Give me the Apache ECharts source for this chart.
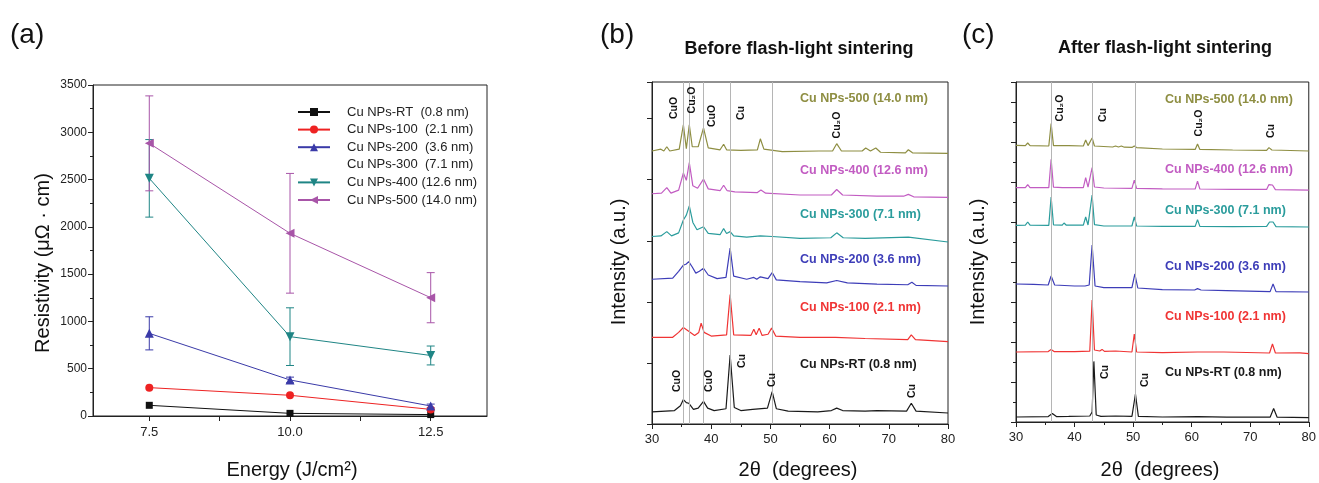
<!DOCTYPE html>
<html><head><meta charset="utf-8">
<script src="https://cdn.jsdelivr.net/npm/echarts@6/dist/echarts.min.js"></script>
<style>html,body{margin:0;padding:0;background:#fff}#c{width:1319px;height:483px}</style>
</head><body><div id="c"></div>
<script>
// ---------- Panel (a) data ----------
const energy = [7.5, 10.0, 12.5];
const namesA = ['Cu NPs-RT  (0.8 nm)','Cu NPs-100  (2.1 nm)','Cu NPs-200  (3.6 nm)','Cu NPs-300  (7.1 nm)','Cu NPs-400 (12.6 nm)','Cu NPs-500 (14.0 nm)'];
const resRT  = [113, 28, 15];
const res100 = [300, 219, 70];
const res200 = [874, 381, 106];
const err200 = [175, 30, 20];
const res300 = [];
const res400 = [2513, 839, 640];
const err400 = [410, 305, 100];
const res500 = [2883, 1932, 1251];
const err500 = [502, 633, 265];
const xTicksA = [7.5, 8.75, 10, 11.25, 12.5];
const xLabelsA = [7.5, 10, 12.5];

// ---------- Panel (b) data: [2theta, offset intensity] ----------
const namesXRD = ['Cu NPs-RT (0.8 nm)','Cu NPs-100 (2.1 nm)','Cu NPs-200 (3.6 nm)','Cu NPs-300 (7.1 nm)','Cu NPs-400 (12.6 nm)','Cu NPs-500 (14.0 nm)'];
const bRT = [[30,0.20],[33.8,0.22],[34.8,0.30],[35.3,0.40],[35.8,0.35],[36.2,0.34],[37.0,0.24],[37.8,0.26],[38.7,0.37],[39.4,0.26],[40.5,0.22],[42.5,0.25],[43.2,1.13],[43.9,0.27],[45,0.22],[47,0.24],[49.5,0.26],[50.3,0.53],[51.0,0.25],[53,0.21],[58,0.20],[60.3,0.22],[61.2,0.26],[62.2,0.22],[66,0.21],[68,0.22],[73.0,0.21],[73.8,0.34],[74.6,0.21],[80,0.18]];
const b100 = [[30,1.42],[33.5,1.42],[34.5,1.50],[35.3,1.58],[36.2,1.52],[37.2,1.45],[37.9,1.50],[38.3,1.65],[38.8,1.50],[40,1.44],[42.6,1.46],[43.2,2.12],[43.8,1.46],[46.7,1.45],[47.2,1.55],[47.6,1.46],[48.1,1.57],[48.6,1.45],[49.6,1.47],[50.2,1.57],[50.9,1.44],[55,1.42],[61,1.42],[66,1.40],[73.2,1.38],[73.8,1.46],[74.5,1.38],[80,1.35]];
const b200 = [[30,2.37],[33.5,2.39],[34.5,2.50],[35.3,2.60],[35.8,2.62],[36.2,2.66],[36.8,2.57],[37.4,2.47],[38.0,2.50],[38.7,2.55],[39.5,2.44],[41,2.38],[42.5,2.40],[43.2,2.88],[43.8,2.42],[46,2.37],[47.2,2.40],[47.7,2.37],[48.3,2.41],[49.6,2.38],[50.3,2.48],[51,2.36],[55,2.33],[59.5,2.31],[61.2,2.35],[63,2.31],[68,2.29],[73.2,2.28],[73.9,2.32],[74.6,2.27],[80,2.26]];
const b300 = [[30,3.07],[31.5,3.08],[32.5,3.15],[33.3,3.08],[34.5,3.13],[35.3,3.34],[35.8,3.42],[36.3,3.57],[36.9,3.30],[37.6,3.18],[38.7,3.23],[39.5,3.12],[41.5,3.10],[42.1,3.20],[42.6,3.12],[43.2,3.15],[43.8,3.08],[46,3.06],[48.3,3.08],[50.3,3.07],[55,3.04],[60.2,3.05],[61.2,3.13],[62.3,3.05],[66,3.04],[73.3,3.06],[80,2.98]];
const b400 = [[30,3.77],[31.6,3.78],[32.5,3.87],[33.2,3.78],[34.5,3.83],[35.3,4.11],[35.8,3.99],[36.3,4.28],[36.9,3.90],[37.7,3.86],[38.7,4.01],[39.5,3.85],[41.5,3.82],[42.1,3.91],[42.7,3.82],[44,3.80],[47.8,3.79],[48.4,3.83],[49.2,3.78],[55,3.75],[60.3,3.75],[61.2,3.84],[62.2,3.75],[68,3.73],[72.5,3.73],[73.3,3.76],[74.2,3.72],[80,3.71]];
const b500 = [[30,4.47],[31.5,4.50],[32.0,4.47],[32.5,4.54],[33.0,4.47],[34.6,4.50],[35.3,4.90],[35.8,4.51],[36.3,4.90],[36.8,4.54],[37.8,4.54],[38.7,4.85],[39.5,4.52],[41.5,4.49],[42.1,4.58],[42.6,4.49],[45,4.48],[47.8,4.49],[48.3,4.67],[48.9,4.50],[52,4.46],[58.2,4.47],[60.5,4.47],[61.2,4.59],[62,4.47],[65.5,4.47],[66.1,4.52],[66.9,4.47],[67.8,4.52],[68.6,4.45],[72.8,4.44],[73.3,4.49],[74,4.44],[80,4.43]];
const refLinesB = [35.3, 36.3, 38.7, 43.2, 50.3];

// ---------- Panel (c) data ----------
const cRT = [[30,0.25],[35.5,0.27],[36.2,0.42],[36.9,0.27],[39,0.28],[42.6,0.30],[43.0,0.50],[43.3,3.03],[43.7,0.35],[44.5,0.28],[47,0.30],[49.8,0.28],[50.4,1.40],[50.9,0.28],[55,0.25],[61,0.27],[66,0.24],[73.4,0.24],[74.0,0.67],[74.6,0.24],[80,0.22]];
const c100 = [[30,3.50],[35.5,3.52],[36.0,3.63],[36.5,3.52],[40,3.52],[42.6,3.54],[43.0,6.10],[43.4,3.60],[44.3,3.55],[44.7,3.63],[45.1,3.53],[47,3.55],[49.8,3.50],[50.2,4.40],[50.6,3.50],[55,3.47],[61,3.50],[65.5,3.50],[73.3,3.45],[73.8,3.90],[74.3,3.45],[78.5,3.46],[80,3.42]];
const c200 = [[30,6.90],[33,6.88],[35.5,6.85],[36.0,7.30],[36.6,6.85],[40,6.80],[41.8,6.80],[42.0,6.85],[42.5,6.85],[43.0,8.85],[43.5,6.80],[45,6.72],[49.8,6.72],[50.3,7.40],[50.8,6.70],[55,6.62],[60.5,6.60],[61,6.67],[61.6,6.60],[66,6.57],[73.4,6.52],[73.9,6.90],[74.4,6.52],[80,6.50]];
const c300 = [[30,9.83],[31.6,9.84],[32,10.0],[32.4,9.84],[35.6,9.83],[36,11.25],[36.4,9.86],[37.9,9.84],[38.2,9.95],[38.6,9.84],[41.5,9.84],[41.9,10.25],[42.3,9.85],[42.6,9.86],[43.0,11.34],[43.4,9.87],[45,9.80],[49.8,9.80],[50.2,10.25],[50.6,9.80],[55,9.78],[60.6,9.78],[61.0,10.12],[61.4,9.78],[67,9.77],[72.8,9.78],[73.3,10.0],[73.6,9.95],[73.9,10.0],[74.4,9.77],[80,9.75]];
const c400 = [[30,11.72],[31.6,11.72],[32,11.87],[32.4,11.72],[35.6,11.72],[36,13.14],[36.4,11.74],[37.9,11.72],[38.2,11.80],[38.6,11.72],[41.5,11.72],[41.9,12.22],[42.3,11.74],[42.6,11.75],[43.0,12.72],[43.4,11.75],[45,11.70],[49.8,11.68],[50.2,12.09],[50.6,11.68],[55,11.66],[60.6,11.65],[61,12.04],[61.4,11.65],[67,11.63],[72.8,11.63],[73.2,11.87],[73.5,11.80],[73.8,11.85],[74.3,11.62],[80,11.59]];
const c500 = [[30,13.83],[31.6,13.82],[32,13.95],[32.4,13.82],[35.6,13.80],[36,14.92],[36.4,13.82],[39,13.82],[41.5,13.80],[41.9,14.10],[42.3,13.82],[42.6,13.85],[43.0,14.20],[43.4,13.80],[46.5,13.75],[47,13.80],[47.5,13.75],[48,13.80],[48.5,13.74],[49.8,13.73],[50.2,13.80],[50.6,13.72],[55,13.65],[60.6,13.63],[61,13.90],[61.4,13.63],[67,13.60],[72.8,13.58],[73.2,13.72],[73.7,13.60],[80,13.55]];
const refLinesC = [36.0, 43.1, 50.3];

// ---------- styling ----------
const FONT = "'Liberation Sans', Arial, 'DejaVu Sans', sans-serif";
const colA = ['#111111','#ee2222','#3a3aa8','#2a8a8a','#1f8585','#a855a8'];
const colX = ['#1a1a1a','#f03434','#3d3db8','#2a9c9c','#c25cc2','#8e8e42'];
const ax = '#222';

const chart = echarts.init(document.getElementById('c'));

function errSeries(vals, errs, color) {
  return {
    type: 'custom', xAxisIndex: 0, yAxisIndex: 0, silent: true, z: 1,
    data: energy.map((e, i) => [e, vals[i] - errs[i], vals[i] + errs[i]]),
    renderItem: (p, api) => {
      const lo = api.coord([api.value(0), api.value(1)]);
      const hi = api.coord([api.value(0), api.value(2)]);
      const w = 4, st = {stroke: color, lineWidth: 1};
      return {type: 'group', children: [
        {type: 'line', shape: {x1: lo[0], y1: lo[1], x2: hi[0], y2: hi[1]}, style: st},
        {type: 'line', shape: {x1: lo[0]-w, y1: lo[1], x2: lo[0]+w, y2: lo[1]}, style: st},
        {type: 'line', shape: {x1: hi[0]-w, y1: hi[1], x2: hi[0]+w, y2: hi[1]}, style: st}
      ]};
    }
  };
}
function lineA(i, vals, symbol, size, rot) {
  return {
    type: 'line', name: namesA[i], xAxisIndex: 0, yAxisIndex: 0,
    data: vals.map((v, k) => [energy[k], v]),
    symbol: symbol, symbolSize: size, symbolRotate: rot || 0, showSymbol: true,
    itemStyle: {color: colA[i]}, lineStyle: {color: colA[i], width: 1}, z: 3
  };
}
function xrd(grid, name, data, color, marks) {
  const s = {
    type: 'line', name: name, xAxisIndex: grid, yAxisIndex: grid, data: data,
    showSymbol: false, symbol: 'none', lineStyle: {color: color, width: 1.2}, z: 3, silent: true
  };
  if (marks) s.markLine = {silent: true, symbol: 'none', label: {show: false},
    lineStyle: {color: '#b5b5b5', width: 1, type: 'solid'}, data: marks.map(v => ({xAxis: v}))};
  return s;
}
function T(x, y, text, o) {
  o = o || {};
  return {type: 'text', x: x, y: y, rotation: o.rot || 0, z: 10, silent: true,
    style: {text: text, fill: o.color || '#111', align: o.align || 'center', verticalAlign: o.va || 'middle',
      font: (o.weight || 'normal') + ' ' + (o.size || 12) + 'px ' + FONT}};
}
const R = Math.PI / 2;
const peakStyle = {rot: R, weight: 'bold', size: 10.5};

const graphics = [
  T(10, 35, '(a)', {size: 28, align: 'left'}),
  T(600, 35, '(b)', {size: 28, align: 'left'}),
  T(962, 35, '(c)', {size: 28, align: 'left'}),
  T(799, 49, 'Before flash-light sintering', {weight: 'bold', size: 18}),
  T(1165, 48, 'After flash-light sintering', {weight: 'bold', size: 18}),
  T(43, 263, 'Resistivity (μΩ · cm)', {rot: R, size: 20}),
  T(292, 470, 'Energy (J/cm²)', {size: 20}),
  T(619, 262, 'Intensity (a.u.)', {rot: R, size: 20}),
  T(798, 470, '2θ  (degrees)', {size: 20}),
  T(978, 262, 'Intensity (a.u.)', {rot: R, size: 20}),
  T(1160, 470, '2θ  (degrees)', {size: 20}),
  // (b) peak labels
  T(674, 108, 'CuO', peakStyle), T(692, 100, 'Cu₂O', peakStyle), T(712, 116, 'CuO', peakStyle),
  T(741, 113, 'Cu', peakStyle), T(837, 125, 'Cu₂O', peakStyle),
  T(677, 381, 'CuO', peakStyle), T(709, 381, 'CuO', peakStyle), T(742, 361, 'Cu', peakStyle),
  T(772, 380, 'Cu', peakStyle), T(912, 391, 'Cu', peakStyle),
  // (c) peak labels
  T(1060, 108, 'Cu₂O', peakStyle), T(1103, 115, 'Cu', peakStyle), T(1199, 123, 'Cu₂O', peakStyle),
  T(1271, 131, 'Cu', peakStyle), T(1105, 372, 'Cu', peakStyle), T(1145, 380, 'Cu', peakStyle)
];
const labYB = [365, 308, 260, 215, 171, 99];
const labYC = [373, 317, 267, 211, 170, 100];
namesXRD.forEach((n, i) => {
  graphics.push(T(800, labYB[i], n, {align: 'left', weight: 'bold', size: 12.5, color: colX[i]}));
  graphics.push(T(1165, labYC[i], n, {align: 'left', weight: 'bold', size: 12.5, color: colX[i]}));
});

const axisCommon = {
  axisLine: {show: true, lineStyle: {color: ax, width: 1}},
  splitLine: {show: false}
};

const option = {
  animation: false,
  backgroundColor: '#fff',
  textStyle: {fontFamily: FONT},
  grid: [
    {left: 93, right: 832, top: 85, bottom: 67, show: true, borderColor: ax, borderWidth: 1},
    {left: 652, right: 371, top: 82, bottom: 59, show: true, borderColor: ax, borderWidth: 1},
    {left: 1016, right: 8, top: 82, bottom: 61, show: true, borderColor: ax, borderWidth: 1}
  ],
  xAxis: [
    Object.assign({gridIndex: 0, type: 'value', min: 6.5, max: 13.5,
      axisTick: {show: true, customValues: xTicksA, length: 5, lineStyle: {color: ax}},
      axisLabel: {customValues: xLabelsA, formatter: v => v.toFixed(1), fontSize: 13, color: '#222', margin: 10}}, axisCommon),
    Object.assign({gridIndex: 1, type: 'value', min: 30, max: 80, interval: 10,
      axisTick: {length: 5, lineStyle: {color: ax}}, minorTick: {show: true, splitNumber: 2, length: 3, lineStyle: {color: ax}},
      axisLabel: {fontSize: 13, color: '#222', margin: 9}}, axisCommon),
    Object.assign({gridIndex: 2, type: 'value', min: 30, max: 80, interval: 10,
      axisTick: {length: 5, lineStyle: {color: ax}}, minorTick: {show: true, splitNumber: 2, length: 3, lineStyle: {color: ax}},
      axisLabel: {fontSize: 13, color: '#222', margin: 9}}, axisCommon)
  ],
  yAxis: [
    Object.assign({gridIndex: 0, type: 'value', min: 0, max: 3500, interval: 500,
      axisTick: {length: 5, lineStyle: {color: ax}}, minorTick: {show: true, splitNumber: 2, length: 3, lineStyle: {color: ax}},
      axisLabel: {fontSize: 12, color: '#222', margin: 6, formatter: v => String(v)}}, axisCommon),
    Object.assign({gridIndex: 1, type: 'value', min: 0, max: 5.6, interval: 1,
      axisTick: {length: 5, lineStyle: {color: ax}}, axisLabel: {show: false}}, axisCommon),
    Object.assign({gridIndex: 2, type: 'value', min: 0, max: 17, interval: 2,
      axisTick: {length: 5, lineStyle: {color: ax}}, minorTick: {show: true, splitNumber: 2, length: 3, lineStyle: {color: ax}},
      axisLabel: {show: false}}, axisCommon)
  ],
  legend: {
    data: namesA.map((n, i) => i === 3 ? {name: n, icon: 'none'} : {name: n}),
    orient: 'vertical', left: 292, top: 100, itemGap: 3.6, itemWidth: 32, itemHeight: 10,
    selectedMode: false, textStyle: {fontSize: 13, color: '#222', lineHeight: 14, padding: [0, 0, 0, 12]}
  },
  series: [
    errSeries(res200, err200, colA[2]),
    errSeries(res400, err400, colA[4]),
    errSeries(res500, err500, colA[5]),
    lineA(0, resRT, 'rect', 7),
    lineA(1, res100, 'circle', 8),
    lineA(2, res200, 'triangle', 9),
    {type: 'line', name: namesA[3], xAxisIndex: 0, yAxisIndex: 0, data: res300, symbol: 'none',
      itemStyle: {color: '#fff', opacity: 0}, lineStyle: {opacity: 0, width: 0}},
    lineA(4, res400, 'triangle', 9, 180),
    lineA(5, res500, 'triangle', 9, 90),
    xrd(1, 'bRT', bRT, colX[0], refLinesB),
    xrd(1, 'b100', b100, colX[1]),
    xrd(1, 'b200', b200, colX[2]),
    xrd(1, 'b300', b300, colX[3]),
    xrd(1, 'b400', b400, colX[4]),
    xrd(1, 'b500', b500, colX[5]),
    xrd(2, 'cRT', cRT, colX[0], refLinesC),
    xrd(2, 'c100', c100, colX[1]),
    xrd(2, 'c200', c200, colX[2]),
    xrd(2, 'c300', c300, colX[3]),
    xrd(2, 'c400', c400, colX[4]),
    xrd(2, 'c500', c500, colX[5])
  ],
  graphic: graphics
};
chart.setOption(option);
</script>
</body></html>
